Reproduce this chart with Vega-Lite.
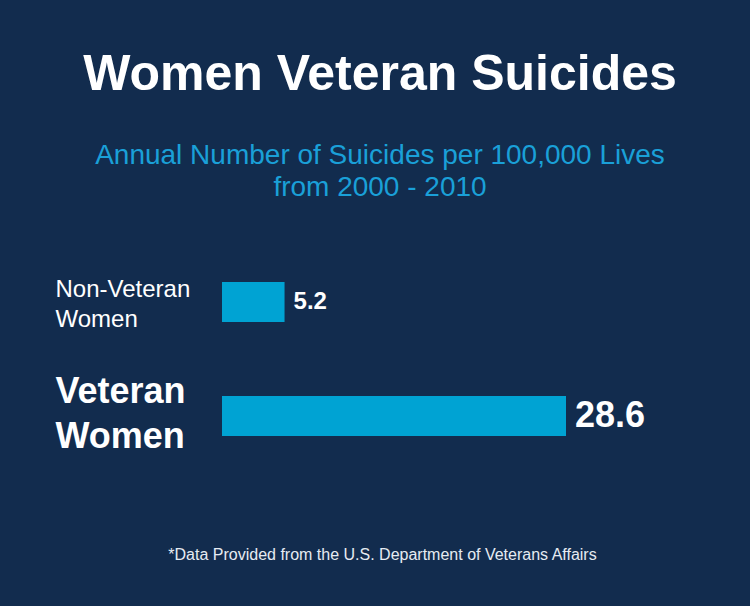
{
  "$schema": "https://vega.github.io/schema/vega-lite/v6.json",
  "width": 344,
  "height": 228,
  "autosize": "none",
  "padding": {"left": 222, "top": 245, "right": 184, "bottom": 133},
  "background": "#122c4e",
  "title": {
    "text": "Women Veteran Suicides",
    "subtitle": ["Annual Number of Suicides per 100,000 Lives", "from 2000 - 2010"],
    "anchor": "middle",
    "frame": "group",
    "dx": -14,
    "offset": 43,
    "font": "Liberation Sans",
    "fontSize": 50,
    "fontWeight": "bold",
    "color": "#ffffff",
    "subtitleFont": "Liberation Sans",
    "subtitleFontSize": 28,
    "subtitleFontWeight": "normal",
    "subtitleColor": "#1aa0d8",
    "subtitleLineHeight": 32,
    "subtitlePadding": 42
  },
  "data": {"values": [
    {"group": "Non-Veteran Women", "rate": 5.2},
    {"group": "Veteran Women", "rate": 28.6}
  ]},
  "encoding": {
    "y": {
      "field": "group", "type": "nominal", "sort": null,
      "scale": {"paddingInner": 0.649, "paddingOuter": 0.3245},
      "axis": {
        "title": null, "domain": false, "ticks": false, "tickSize": 0, "grid": false,
        "labelAlign": "left", "labelPadding": 167, "labelColor": "#ffffff",
        "labelFont": "Liberation Sans", "labelLimit": 0,
        "labelFontSize": {"condition": {"test": "datum.value === 'Veteran Women'", "value": 36}, "value": 24},
        "labelFontWeight": {"condition": {"test": "datum.value === 'Veteran Women'", "value": "bold"}, "value": "normal"},
        "labelOffset": {"condition": {"test": "datum.value === 'Veteran Women'", "value": -24}, "value": -12},
        "labelLineHeight": {"expr": "datum.value === 'Veteran Women' ? 45 : 30"},
        "labelExpr": "datum.label == 'Veteran Women' ? ['Veteran', 'Women'] : ['Non-Veteran', 'Women']"
      }
    },
    "x": {
      "field": "rate", "type": "quantitative",
      "scale": {"domain": [0, 28.6], "nice": false},
      "axis": {
        "labels": false, "ticks": false, "domain": false, "grid": false,
        "title": "*Data Provided from the U.S. Department of Veterans Affairs",
        "titleFont": "Liberation Sans", "titleFontSize": 16, "titleFontWeight": "normal",
        "titleColor": "#e6ebf2", "titleX": 160, "titleY": 86, "titleBaseline": "alphabetic", "titleAlign": "center"
      }
    }
  },
  "layer": [
    {"mark": {"type": "bar", "color": "#00a3d3"}},
    {
      "mark": {"type": "text", "align": "left", "baseline": "middle", "dx": 9, "font": "Liberation Sans", "fontWeight": "bold", "color": "#ffffff"},
      "encoding": {
        "text": {"field": "rate", "type": "quantitative", "format": ".1f"},
        "size": {"condition": {"test": "datum.group === 'Veteran Women'", "value": 36}, "value": 24}
      }
    }
  ],
  "config": {"view": {"stroke": null}}
}
